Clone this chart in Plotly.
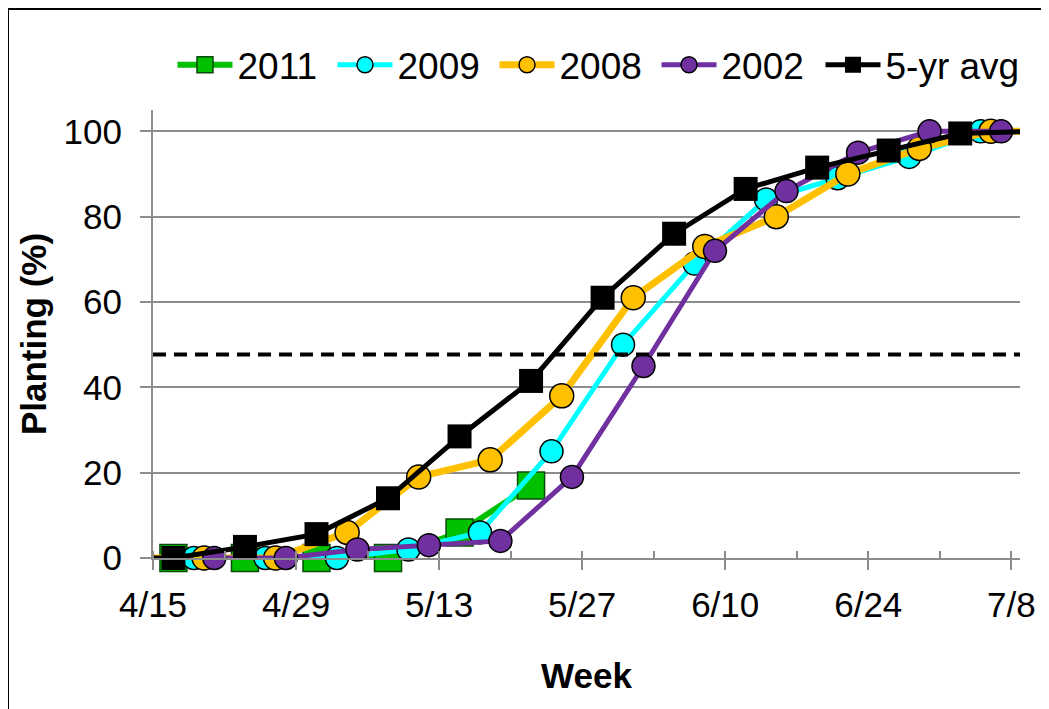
import plotly.graph_objects as go
from datetime import datetime, timedelta

# ---- data (month/day of week-ending dates, planting %) ----
dates_2011 = ["4/17", "4/24", "5/1", "5/8", "5/15", "5/22"]
vals_2011 = [0, 0, 0, 0, 6, 17]

dates_2009 = ["4/19", "4/26", "5/3", "5/10", "5/17", "5/24", "5/31", "6/7", "6/14", "6/21", "6/28", "7/5"]
vals_2009 = [0, 0, 0, 2, 6, 25, 50, 69, 84, 89, 94, 100]

dates_2008 = ["4/13", "4/20", "4/27", "5/4", "5/11", "5/18", "5/25", "6/1", "6/8", "6/15", "6/22", "6/29", "7/6", "7/13"]
vals_2008 = [0, 0, 0, 6, 19, 23, 38, 61, 73, 80, 90, 96, 100, 100]

dates_2002 = ["4/21", "4/28", "5/5", "5/12", "5/19", "5/26", "6/2", "6/9", "6/16", "6/23", "6/30", "7/7"]
vals_2002 = [0, 0, 2, 3, 4, 19, 45, 72, 86, 95, 100, 100]

dates_avg = ["4/10", "4/17", "4/24", "5/1", "5/8", "5/15", "5/22", "5/29", "6/5", "6/12", "6/19", "6/26", "7/3", "7/10"]
vals_avg = [0, 0, 2.6, 5.6, 14, 28.5, 41.5, 61, 76, 86.5, 91.5, 95.5, 99.5, 100]

threshold = 47.7

x_start = "4/15"
x_end = "7/8"
tick_labels = ["4/15", "4/29", "5/13", "5/27", "6/10", "6/24", "7/8"]

YEAR = 2011


def to_date(md):
    m, d = md.split("/")
    return datetime(YEAR, int(m), int(d))


FONT = "Liberation Sans, Arial, sans-serif"
GRID = "#8c8c8c"

# figure sits at page offset 8px (body margin); plot geometry in figure px
W, H = 1041, 701
ML, MT, MR, MB = 145, 102, 29, 151
PW = W - ML - MR
PH = H - MT - MB

x0 = to_date(x_start)
x1 = to_date(x_end) + timedelta(days=0.85)
tickvals = [to_date(t) for t in tick_labels]
DAY_MS = 86400000

fig = go.Figure()

series = [
    ("2011", dates_2011, vals_2011, "#00C000", 6, "square", 27, "#0a4a0a", 1.5),
    ("2009", dates_2009, vals_2009, "#00FFFF", 5, "circle", 23, "#000000", 1.5),
    ("2008", dates_2008, vals_2008, "#FFC000", 7, "circle", 24, "#000000", 1.5),
    ("2002", dates_2002, vals_2002, "#7030A0", 5, "circle", 23, "#000000", 1.5),
    ("5-yr avg", dates_avg, vals_avg, "#000000", 5, "square", 24, "#000000", 0),
]
legend_ids = ["legend", "legend2", "legend3", "legend4", "legend5"]
legend_centres = [205, 365, 527, 689, 853]  # legend marker centres (page px)
ITEMW = 55

for (name, ds, vs, color, lw, sym, ms, mlc, mlw), lid in zip(series, legend_ids):
    xs = [to_date(d) for d in ds]
    # markers outside the axis window are hidden (lines are clipped by the plot area)
    sizes = [ms if x0 <= x <= x1 else 0 for x in xs]
    fig.add_trace(go.Scatter(
        x=xs, y=vs, name=name, mode="lines+markers",
        line=dict(color=color, width=lw),
        marker=dict(symbol=sym, size=sizes, color=color, opacity=1,
                    line=dict(color=mlc, width=mlw)),
        cliponaxis=False, legend=lid,
    ))

legends = {}
for lid, c in zip(legend_ids, legend_centres):
    left_fig = c - 8 - 5 - ITEMW / 2
    legends[lid] = dict(
        orientation="h", x=(left_fig - ML) / PW, xanchor="left",
        y=1.10, yanchor="middle", font=dict(size=37, family=FONT),
        itemwidth=ITEMW, itemsizing="trace", bgcolor="rgba(0,0,0,0)",
    )

fig.add_shape(type="line", xref="paper", x0=0, x1=1, yref="y", y0=threshold, y1=threshold,
              line=dict(color="black", width=4, dash="13px,8px"), layer="above")

# chart-area border (top and left visible)
fig.add_shape(type="rect", xref="paper", yref="paper",
              x0=(0 - ML) / PW, x1=1.5, y0=-1, y1=(PH + MT - 1) / PH,
              line=dict(color="black", width=2), layer="below")

fig.update_layout(
    width=W, height=H,
    margin=dict(l=ML, r=MR, t=MT, b=MB, autoexpand=False),
    paper_bgcolor="white", plot_bgcolor="white",
    font=dict(family=FONT, size=35, color="black"),
    showlegend=True,
    xaxis=dict(
        type="date", range=[x0, x1], tickvals=tickvals, ticktext=tick_labels,
        ticks="outside", ticklen=10, tickwidth=2, tickcolor=GRID,
        minor=dict(ticks="inside", ticklen=7, tickwidth=2, tickcolor=GRID,
                   dtick=7 * DAY_MS, tick0=x0, showgrid=False),
        showline=True, linecolor=GRID, linewidth=2,
        showgrid=False, zeroline=False, automargin=False,
        tickfont=dict(size=35), ticklabelstandoff=5,
        title=dict(text="<b>Week</b>", font=dict(size=35), standoff=40),
    ),
    xaxis2=dict(
        type="date", range=[x0, x1], tickvals=tickvals, overlaying="x", anchor="y",
        side="bottom", ticks="inside", ticklen=9, tickwidth=2, tickcolor=GRID,
        showticklabels=False, showgrid=False, showline=False, zeroline=False,
        automargin=False,
    ),
    yaxis=dict(
        range=[0, 105], tickvals=[0, 20, 40, 60, 80, 100],
        ticks="outside", ticklen=11, tickwidth=2, tickcolor=GRID,
        showline=True, linecolor=GRID, linewidth=2,
        showgrid=True, gridcolor=GRID, gridwidth=2, zeroline=False, automargin=False,
        tickfont=dict(size=35), ticklabelstandoff=11,
        title=dict(text="<b>Planting (%)</b>", font=dict(size=35), standoff=6),
    ),
    yaxis2=dict(
        range=[0, 105], tickvals=[0, 20, 40, 60, 80, 100], overlaying="y", anchor="x",
        side="left", ticks="inside", ticklen=5, tickwidth=2, tickcolor=GRID,
        showticklabels=False, showgrid=False, showline=False, zeroline=False,
        automargin=False,
    ),
    **legends,
)

fig.write_html("out.html")
